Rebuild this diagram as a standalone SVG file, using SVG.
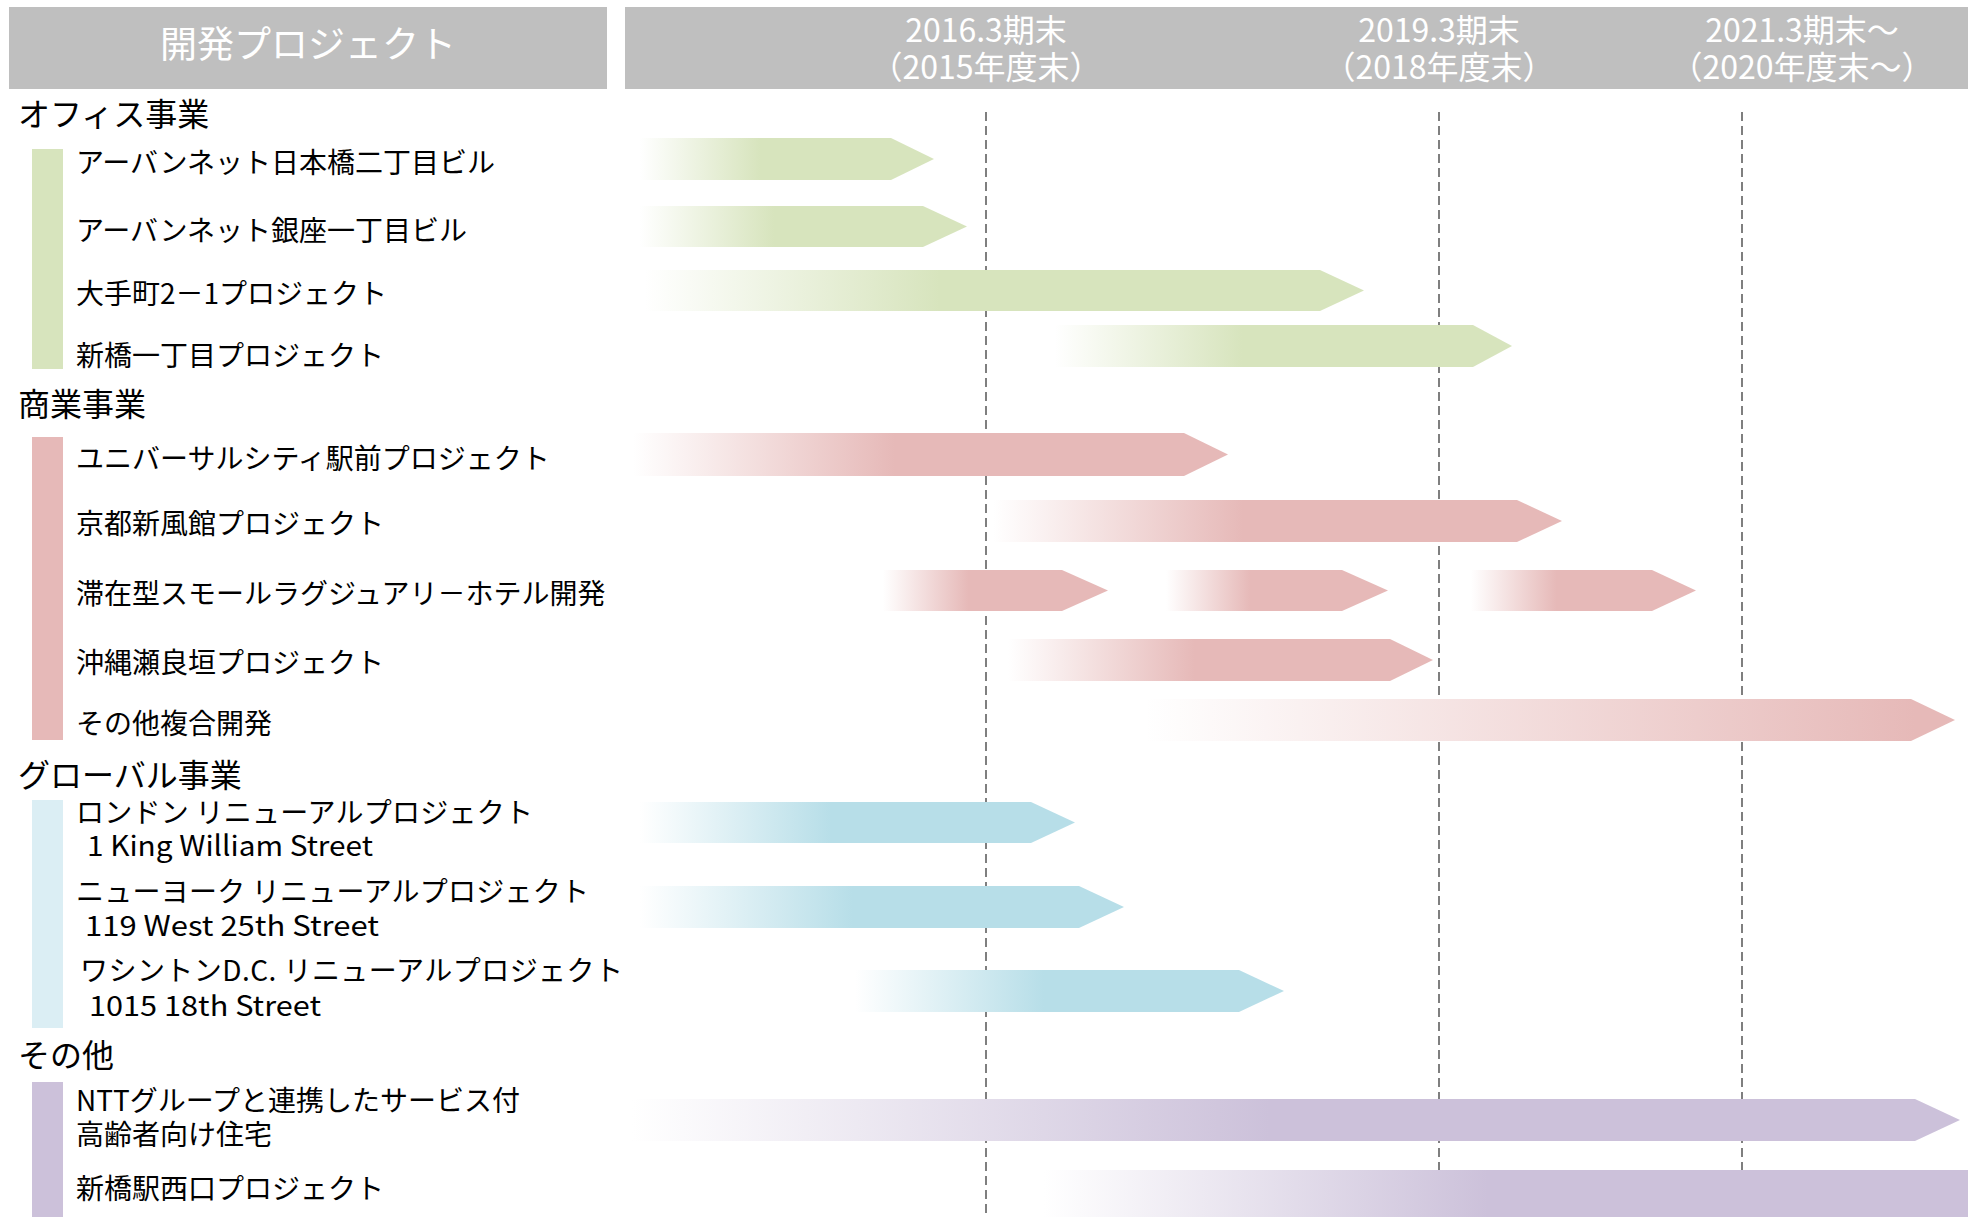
<svg xmlns="http://www.w3.org/2000/svg" width="1979" height="1217" viewBox="0 0 1979 1217">
<style>
  text { font-family: "Noto Sans CJK JP", "Noto Sans", sans-serif; }
  .hdr { fill: #bfbfbf; }
  .hdrtxt { fill: #ffffff; font-size: 37px; }
  .yeartxt { fill: #ffffff; font-size: 32px; text-anchor: middle; }
  .cat { fill: #000000; font-size: 32px; }
  .item { fill: #000000; font-size: 28px; }
  .grid { stroke: #7f7f7f; stroke-width: 2; stroke-dasharray: 9 5; fill: none; }
</style>
<defs>
  <linearGradient id="gGreen" x1="0" y1="0" x2="1" y2="0">
    <stop offset="0" stop-color="#ffffff"/><stop offset="0.41" stop-color="#d7e4bd"/><stop offset="1" stop-color="#d7e4bd"/>
  </linearGradient>
  <linearGradient id="gPink" x1="0" y1="0" x2="1" y2="0">
    <stop offset="0" stop-color="#ffffff"/><stop offset="0.44" stop-color="#e6b9b8"/><stop offset="1" stop-color="#e6b9b8"/>
  </linearGradient>
  <linearGradient id="gPinkShort" x1="0" y1="0" x2="1" y2="0">
    <stop offset="0" stop-color="#ffffff"/><stop offset="0.38" stop-color="#e6b9b8"/><stop offset="1" stop-color="#e6b9b8"/>
  </linearGradient>
  <linearGradient id="gPinkLong" x1="0" y1="0" x2="1" y2="0">
    <stop offset="0" stop-color="#ffffff"/><stop offset="0.95" stop-color="#e6b9b8"/><stop offset="1" stop-color="#e6b9b8"/>
  </linearGradient>
  <linearGradient id="gBlue" x1="0" y1="0" x2="1" y2="0">
    <stop offset="0" stop-color="#ffffff"/><stop offset="0.44" stop-color="#b7dee8"/><stop offset="1" stop-color="#b7dee8"/>
  </linearGradient>
  <linearGradient id="gPurple" x1="0" y1="0" x2="1" y2="0">
    <stop offset="0" stop-color="#ffffff"/><stop offset="0.48" stop-color="#ccc1da"/><stop offset="1" stop-color="#ccc1da"/>
  </linearGradient>
</defs>

<rect width="1979" height="1217" fill="#ffffff"/>

<g id="header">
  <rect class="hdr" x="9" y="7" width="598" height="82"/>
  <text class="hdrtxt" x="308" y="57.5" text-anchor="middle">開発プロジェクト</text>
  <rect class="hdr" x="625" y="7" width="1343" height="82"/>
  <text class="yeartxt"><tspan x="986" y="42">2016.3期末</tspan><tspan x="986" y="79">（2015年度末）</tspan></text>
  <text class="yeartxt"><tspan x="1439" y="42">2019.3期末</tspan><tspan x="1439" y="79">（2018年度末）</tspan></text>
  <text class="yeartxt"><tspan x="1802" y="42">2021.3期末～</tspan><tspan x="1802" y="79">（2020年度末～）</tspan></text>
</g>

<g id="gridlines">
  <line class="grid" x1="986" y1="112" x2="986" y2="1217"/>
  <line class="grid" x1="1439" y1="112" x2="1439" y2="1217"/>
  <line class="grid" x1="1742" y1="112" x2="1742" y2="1217"/>
</g>

<g id="category-office">
  <text class="cat" x="18" y="125.5">オフィス事業</text>
  <rect x="32" y="149" width="31" height="220" fill="#d7e4bd"/>
</g>
<g id="category-retail">
  <text class="cat" x="18" y="416">商業事業</text>
  <rect x="32" y="437" width="31" height="303" fill="#e6b9b8"/>
</g>
<g id="category-global">
  <text class="cat" x="18" y="787">グローバル事業</text>
  <rect x="32" y="800" width="31" height="228" fill="#dbeef4"/>
</g>
<g id="category-other">
  <text class="cat" x="18" y="1067">その他</text>
  <rect x="32" y="1082" width="31" height="135" fill="#ccc1da"/>
</g>

<g id="labels">
  <text class="item" x="76" y="172.6">アーバンネット日本橋二丁目ビル</text>
  <text class="item" x="76" y="240.6">アーバンネット銀座一丁目ビル</text>
  <text class="item" x="76" y="303.6">大手町2－1プロジェクト</text>
  <text class="item" x="76" y="365.6">新橋一丁目プロジェクト</text>
  <text class="item" x="76" y="468.6">ユニバーサルシティ駅前プロジェクト</text>
  <text class="item" x="76" y="533.6">京都新風館プロジェクト</text>
  <text class="item" x="76" y="603.6">滞在型スモールラグジュアリ－ホテル開発</text>
  <text class="item" x="76" y="672.6">沖縄瀬良垣プロジェクト</text>
  <text class="item" x="76" y="733.6">その他複合開発</text>
  <text class="item" x="76" y="822.6" textLength="457" lengthAdjust="spacing">ロンドン リニューアルプロジェクト</text>
  <text class="item" x="87" y="856" textLength="286" lengthAdjust="spacingAndGlyphs">1 King William Street</text>
  <text class="item" x="76" y="901.6" textLength="513" lengthAdjust="spacing">ニューヨーク リニューアルプロジェクト</text>
  <text class="item" x="85" y="936" textLength="294" lengthAdjust="spacingAndGlyphs">119 West 25th Street</text>
  <text class="item" x="80" y="980.6" textLength="543" lengthAdjust="spacing">ワシントンD.C. リニューアルプロジェクト</text>
  <text class="item" x="89" y="1016" textLength="232" lengthAdjust="spacingAndGlyphs">1015 18th Street</text>
  <text class="item" x="76" y="1110.6">NTTグループと連携したサービス付</text>
  <text class="item" x="76" y="1144.6">高齢者向け住宅</text>
  <text class="item" x="76" y="1198.6">新橋駅西口プロジェクト</text>
</g>

<g id="arrows">
  <path id="a-nihonbashi" fill="url(#gGreen)" d="M640,138 H891 L934,159 L891,180 H640 Z"/>
  <path id="a-ginza" fill="url(#gGreen)" d="M640,206 H923 L967,226.5 L923,247 H640 Z"/>
  <path id="a-otemachi" fill="url(#gGreen)" d="M645,270 H1320 L1364,290.5 L1320,311 H645 Z"/>
  <path id="a-shinbashi1" fill="url(#gGreen)" d="M1055,325 H1473 L1512,346 L1473,367 H1055 Z"/>
  <path id="a-universal" fill="url(#gPink)" d="M633,433 H1184 L1228,454.5 L1184,476 H633 Z"/>
  <path id="a-kyoto" fill="url(#gPink)" d="M993,500 H1517 L1562,521 L1517,542 H993 Z"/>
  <path id="a-hotel1" fill="url(#gPinkShort)" d="M883,570 H1062 L1108,590.5 L1062,611 H883 Z"/>
  <path id="a-hotel2" fill="url(#gPinkShort)" d="M1166,570 H1342 L1388,590.5 L1342,611 H1166 Z"/>
  <path id="a-hotel3" fill="url(#gPinkShort)" d="M1471,570 H1652 L1696,590.5 L1652,611 H1471 Z"/>
  <path id="a-okinawa" fill="url(#gPink)" d="M1008,639 H1390 L1433,660 L1390,681 H1008 Z"/>
  <path id="a-othercomplex" fill="url(#gPinkLong)" d="M1146,699 H1911 L1955,720 L1911,741 H1146 Z"/>
  <path id="a-london" fill="url(#gBlue)" d="M640,802 H1031 L1075,822.5 L1031,843 H640 Z"/>
  <path id="a-newyork" fill="url(#gBlue)" d="M640,886 H1079 L1124,907 L1079,928 H640 Z"/>
  <path id="a-washington" fill="url(#gBlue)" d="M855,970 H1239 L1284,991 L1239,1012 H855 Z"/>
  <path id="a-ntt" fill="url(#gPurple)" d="M632,1099 H1915 L1960,1120 L1915,1141 H632 Z"/>
  <path id="a-shinbashiwest" fill="url(#gPurple)" d="M1044,1170 H1968 V1217 H1044 Z"/>
</g>
</svg>
